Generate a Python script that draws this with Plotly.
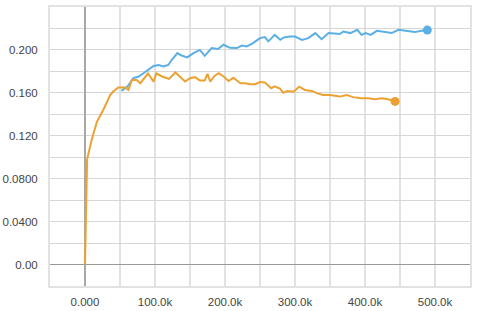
import plotly.graph_objects as go

# ---- data (step in thousands, value) ----
orange_steps_k = [0, 3, 9.5, 17, 26, 36, 40, 47.6, 57, 62, 67, 74, 79, 90, 98, 102, 111, 120, 129, 136,
                  143, 150, 157, 164, 171, 175, 179, 185, 191, 198, 205, 212, 217, 222, 229, 236,
                  243, 250, 257, 261, 266, 271, 279, 283, 289, 298, 306, 314, 324, 331, 340, 350,
                  357, 364, 374, 383, 395, 405, 414, 424, 433, 443]
orange_values = [0.0, 0.098, 0.116, 0.133, 0.144, 0.158, 0.161, 0.165, 0.165, 0.1627, 0.172, 0.172,
                 0.169, 0.178, 0.1705, 0.178, 0.175, 0.173, 0.179, 0.175, 0.1705, 0.1737, 0.1746,
                 0.1716, 0.1716, 0.1777, 0.1705, 0.1758, 0.1783, 0.1752, 0.171, 0.174, 0.1716,
                 0.169, 0.169, 0.168, 0.168, 0.170, 0.1696, 0.1674, 0.1643, 0.166, 0.1637, 0.160,
                 0.1618, 0.161, 0.1658, 0.1627, 0.1618, 0.1597, 0.158, 0.158, 0.1574, 0.1565,
                 0.158, 0.156, 0.155, 0.155, 0.154, 0.155, 0.154, 0.152]

blue_steps_k = [52, 61, 69, 76, 83, 90, 98, 105, 112, 119, 124, 132, 138, 146, 155, 164, 171, 181,
                190, 198, 207, 217, 224, 231, 240, 250, 257, 262, 271, 279, 284, 293, 300, 310,
                319, 329, 338, 348, 356, 364, 369, 379, 389, 395, 401, 408, 417, 426, 438, 448,
                460, 471, 481, 489]
blue_values = [0.1618, 0.166, 0.1737, 0.175, 0.178, 0.1814, 0.185, 0.186, 0.1845, 0.186, 0.1908,
               0.197, 0.1948, 0.193, 0.197, 0.200, 0.1945, 0.2017, 0.2008, 0.2048, 0.202, 0.2017,
               0.204, 0.2032, 0.2063, 0.211, 0.212, 0.208, 0.214, 0.2094, 0.2116, 0.2125, 0.2125,
               0.2094, 0.211, 0.2157, 0.210, 0.2157, 0.215, 0.2148, 0.2172, 0.2157, 0.2188,
               0.214, 0.2157, 0.214, 0.2178, 0.2166, 0.2157, 0.2188, 0.2175, 0.2166, 0.2178,
               0.2185]

x_tick_vals = [-50000, 0, 50000, 100000, 150000, 200000, 250000, 300000, 350000, 400000,
               450000, 500000, 550000]
x_tick_text = ["", "0.000", "", "100.0k", "", "200.0k", "", "300.0k", "", "400.0k", "",
               "500.0k", ""]
y_tick_vals = [-0.02, 0.0, 0.02, 0.04, 0.06, 0.08, 0.10, 0.12, 0.14, 0.16, 0.18, 0.20, 0.22, 0.24]
y_tick_text = ["", "0.00", "", "0.0400", "", "0.0800", "", "0.120", "", "0.160", "", "0.200", "", ""]

BLUE = "#5aafe4"
ORANGE = "#eca232"

ox = [v * 1000 for v in orange_steps_k]
bx = [v * 1000 for v in blue_steps_k]

fig = go.Figure()
fig.add_trace(go.Scatter(x=bx, y=blue_values, mode="lines",
                         line=dict(color=BLUE, width=2), hoverinfo="skip"))
fig.add_trace(go.Scatter(x=ox, y=orange_values, mode="lines",
                         line=dict(color=ORANGE, width=2), hoverinfo="skip"))
fig.add_trace(go.Scatter(x=[bx[-1]], y=[blue_values[-1]], mode="markers",
                         marker=dict(color=BLUE, size=9), hoverinfo="skip"))
fig.add_trace(go.Scatter(x=[ox[-1]], y=[orange_values[-1]], mode="markers",
                         marker=dict(color=ORANGE, size=9), hoverinfo="skip"))

fig.update_layout(
    width=482, height=311,
    margin=dict(l=50, r=12, t=7, b=25, pad=0),
    paper_bgcolor="white", plot_bgcolor="white",
    showlegend=False, hovermode=False,
    font=dict(family="Liberation Sans, Arial, sans-serif", size=11.5, color="#444"),
)
fig.update_xaxes(range=[-50000, 550000], tickmode="array", tickvals=x_tick_vals,
                 ticktext=x_tick_text, showgrid=True, gridcolor="#e2e2e2", gridwidth=2,
                 zeroline=True, zerolinecolor="#a8a8a8", zerolinewidth=2,
                 showline=True, mirror=True, linecolor="#e2e2e2", linewidth=2,
                 ticks="", ticklabelstandoff=4, automargin=False)
fig.update_yaxes(range=[-0.02, 0.24], tickmode="array", tickvals=y_tick_vals,
                 ticktext=y_tick_text, showgrid=True, gridcolor="#d6d6d6", gridwidth=1,
                 zeroline=True, zerolinecolor="#999999", zerolinewidth=1.5,
                 showline=True, mirror=True, linecolor="#e2e2e2", linewidth=2,
                 ticks="", ticklabelstandoff=8, automargin=False)

# remove the default page margin so the figure fills the window exactly
fig.write_html("out.html", config={"displayModeBar": False, "staticPlot": True},
               post_script="document.body.style.margin='0';document.body.style.overflow='hidden';")
